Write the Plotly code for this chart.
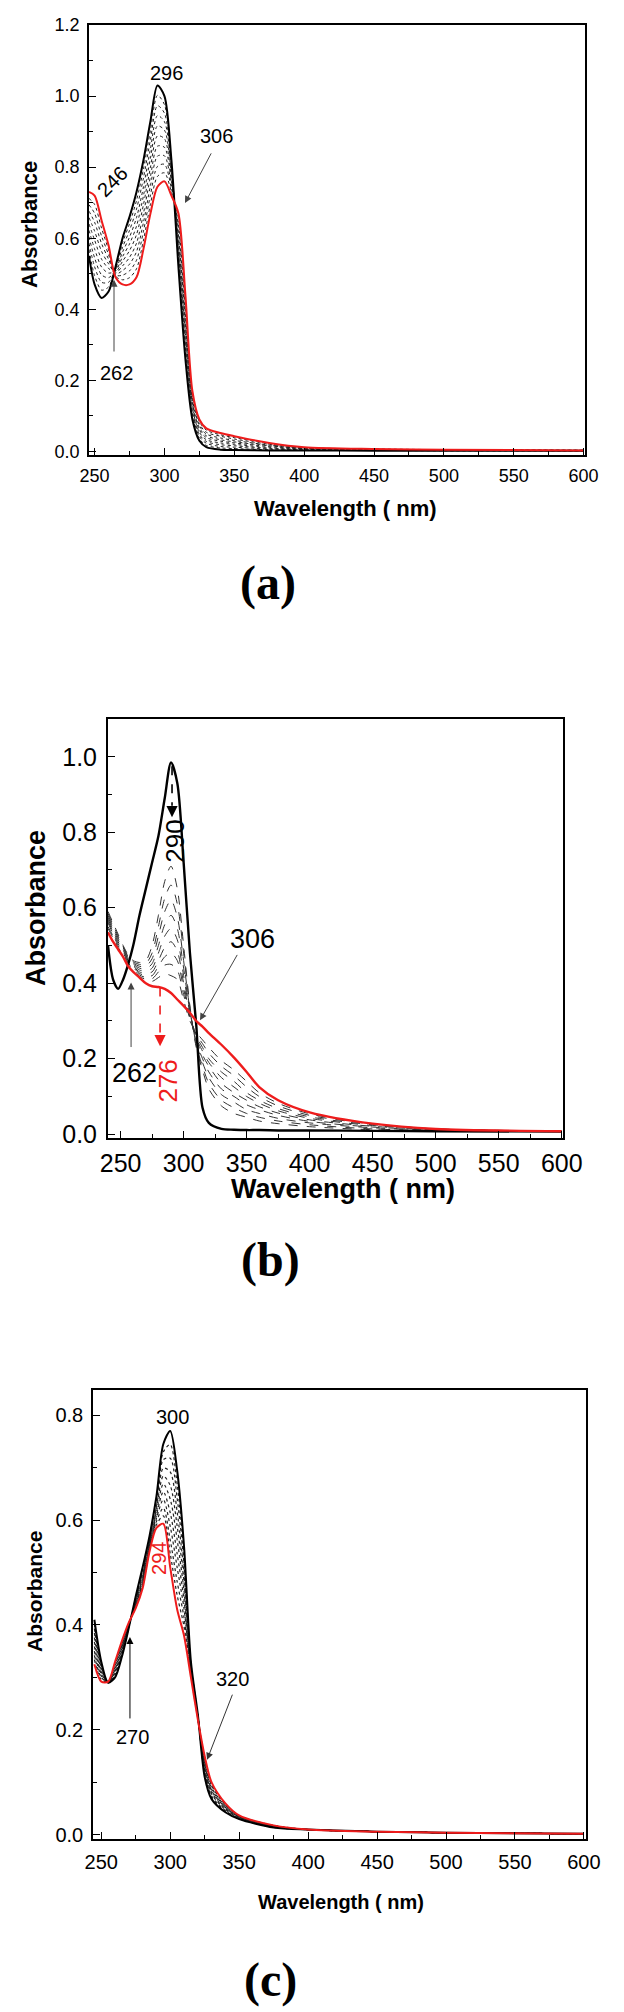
import plotly.graph_objects as go

W, H = 624, 2012

# ---------------- Panel (a) data ----------------
wl_a = [246, 250, 255, 260, 265, 270, 275, 280, 285, 290, 295, 300, 305, 310, 315, 320, 325, 330, 340, 350, 375, 400, 450, 500, 600]
a_initial = [0.55, 0.47, 0.432, 0.45, 0.52, 0.60, 0.66, 0.73, 0.82, 0.93, 1.03, 1.00, 0.82, 0.52, 0.26, 0.09, 0.03, 0.012, 0.005, 0.004, 0.003, 0.003, 0.002, 0.002, 0.002]
a_final = [0.73, 0.72, 0.65, 0.58, 0.49, 0.47, 0.47, 0.49, 0.57, 0.67, 0.745, 0.76, 0.72, 0.67, 0.44, 0.17, 0.09, 0.065, 0.052, 0.043, 0.024, 0.012, 0.007, 0.005, 0.003]
a_scan1 = [0.568, 0.495, 0.454, 0.463, 0.517, 0.587, 0.641, 0.706, 0.795, 0.904, 1.002, 0.976, 0.81, 0.535, 0.278, 0.098, 0.036, 0.017, 0.01, 0.008, 0.005, 0.004, 0.003, 0.002, 0.002]
a_scan2 = [0.586, 0.52, 0.476, 0.476, 0.514, 0.574, 0.622, 0.682, 0.77, 0.878, 0.973, 0.952, 0.80, 0.55, 0.296, 0.106, 0.042, 0.023, 0.014, 0.012, 0.007, 0.005, 0.003, 0.003, 0.002]
a_scan3 = [0.604, 0.545, 0.497, 0.489, 0.511, 0.561, 0.603, 0.658, 0.745, 0.852, 0.945, 0.928, 0.79, 0.565, 0.314, 0.114, 0.048, 0.028, 0.019, 0.016, 0.009, 0.006, 0.004, 0.003, 0.002]
a_scan4 = [0.622, 0.57, 0.519, 0.502, 0.508, 0.548, 0.584, 0.634, 0.72, 0.826, 0.916, 0.904, 0.78, 0.58, 0.332, 0.122, 0.054, 0.033, 0.024, 0.02, 0.011, 0.007, 0.004, 0.003, 0.002]
a_scan5 = [0.64, 0.595, 0.541, 0.515, 0.505, 0.535, 0.565, 0.61, 0.695, 0.80, 0.888, 0.88, 0.77, 0.595, 0.35, 0.13, 0.06, 0.039, 0.029, 0.024, 0.014, 0.008, 0.005, 0.004, 0.003]
a_scan6 = [0.658, 0.62, 0.563, 0.528, 0.502, 0.522, 0.546, 0.586, 0.67, 0.774, 0.859, 0.856, 0.76, 0.61, 0.368, 0.138, 0.066, 0.044, 0.033, 0.027, 0.016, 0.008, 0.005, 0.004, 0.003]
a_scan7 = [0.676, 0.645, 0.585, 0.541, 0.499, 0.509, 0.527, 0.562, 0.645, 0.748, 0.831, 0.832, 0.75, 0.625, 0.386, 0.146, 0.072, 0.049, 0.038, 0.031, 0.018, 0.009, 0.006, 0.004, 0.003]
a_scan8 = [0.694, 0.67, 0.606, 0.554, 0.496, 0.496, 0.508, 0.538, 0.62, 0.722, 0.802, 0.808, 0.74, 0.64, 0.404, 0.154, 0.078, 0.054, 0.043, 0.035, 0.02, 0.01, 0.006, 0.004, 0.003]
a_scan9 = [0.712, 0.695, 0.628, 0.567, 0.493, 0.483, 0.489, 0.514, 0.595, 0.696, 0.774, 0.784, 0.73, 0.655, 0.422, 0.162, 0.084, 0.06, 0.047, 0.039, 0.022, 0.011, 0.007, 0.005, 0.003]

# ---------------- Panel (b) data ----------------
wl_b = [240, 244, 248, 252, 256, 260, 265, 270, 275, 280, 285, 290, 295, 300, 305, 310, 315, 320, 330, 340, 350, 360, 375, 400, 450, 500, 600]
b_initial = [0.50, 0.41, 0.385, 0.41, 0.45, 0.50, 0.58, 0.65, 0.72, 0.79, 0.89, 0.985, 0.93, 0.72, 0.48, 0.29, 0.07, 0.03, 0.014, 0.012, 0.011, 0.011, 0.01, 0.01, 0.009, 0.008, 0.007]
b_final = [0.535, 0.51, 0.49, 0.47, 0.445, 0.43, 0.415, 0.40, 0.392, 0.39, 0.385, 0.374, 0.357, 0.34, 0.322, 0.30, 0.285, 0.268, 0.237, 0.203, 0.165, 0.125, 0.09, 0.058, 0.028, 0.014, 0.008]
b_scan1 = [0.59, 0.56, 0.53, 0.50, 0.475, 0.46, 0.455, 0.46, 0.50, 0.58, 0.67, 0.71, 0.65, 0.50, 0.34, 0.23, 0.17, 0.12, 0.075, 0.055, 0.045, 0.035, 0.028, 0.02, 0.012, 0.009, 0.007]
b_scan2 = [0.585, 0.555, 0.525, 0.497, 0.472, 0.457, 0.45, 0.452, 0.48, 0.55, 0.625, 0.66, 0.61, 0.48, 0.335, 0.235, 0.18, 0.135, 0.09, 0.07, 0.055, 0.045, 0.035, 0.025, 0.014, 0.01, 0.007]
b_scan3 = [0.58, 0.55, 0.52, 0.494, 0.47, 0.454, 0.445, 0.445, 0.465, 0.525, 0.59, 0.62, 0.575, 0.46, 0.33, 0.24, 0.19, 0.15, 0.105, 0.085, 0.065, 0.055, 0.042, 0.03, 0.017, 0.011, 0.007]
b_scan4 = [0.575, 0.545, 0.515, 0.49, 0.467, 0.451, 0.44, 0.438, 0.452, 0.50, 0.555, 0.58, 0.545, 0.44, 0.325, 0.245, 0.20, 0.165, 0.12, 0.10, 0.078, 0.065, 0.05, 0.034, 0.019, 0.012, 0.008]
b_scan5 = [0.57, 0.54, 0.51, 0.487, 0.464, 0.448, 0.435, 0.432, 0.44, 0.48, 0.525, 0.545, 0.515, 0.42, 0.32, 0.25, 0.21, 0.18, 0.135, 0.11, 0.09, 0.073, 0.056, 0.038, 0.021, 0.013, 0.008]
b_scan6 = [0.565, 0.535, 0.505, 0.484, 0.46, 0.445, 0.43, 0.426, 0.43, 0.46, 0.495, 0.51, 0.485, 0.40, 0.315, 0.255, 0.22, 0.19, 0.15, 0.125, 0.10, 0.082, 0.062, 0.042, 0.023, 0.013, 0.008]
b_scan7 = [0.56, 0.53, 0.50, 0.48, 0.457, 0.442, 0.426, 0.42, 0.42, 0.445, 0.47, 0.48, 0.46, 0.385, 0.31, 0.26, 0.23, 0.20, 0.165, 0.14, 0.11, 0.09, 0.068, 0.046, 0.025, 0.014, 0.008]
b_scan8 = [0.55, 0.525, 0.495, 0.477, 0.454, 0.439, 0.422, 0.415, 0.412, 0.43, 0.448, 0.45, 0.435, 0.37, 0.305, 0.265, 0.24, 0.215, 0.18, 0.155, 0.125, 0.10, 0.075, 0.05, 0.027, 0.014, 0.008]
b_scan9 = [0.545, 0.52, 0.49, 0.474, 0.45, 0.436, 0.418, 0.41, 0.405, 0.415, 0.425, 0.42, 0.41, 0.355, 0.30, 0.27, 0.25, 0.23, 0.195, 0.17, 0.14, 0.11, 0.082, 0.054, 0.028, 0.014, 0.008]

# ---------------- Panel (c) data ----------------
wl_c = [245, 250, 255, 260, 265, 270, 275, 280, 285, 290, 295, 300, 305, 310, 315, 320, 325, 330, 340, 350, 375, 400, 450, 500, 600]
c_initial = [0.41, 0.33, 0.29, 0.30, 0.34, 0.395, 0.455, 0.51, 0.57, 0.645, 0.745, 0.77, 0.695, 0.55, 0.33, 0.23, 0.11, 0.068, 0.043, 0.03, 0.014, 0.01, 0.006, 0.004, 0.002]
c_final = [0.325, 0.292, 0.292, 0.33, 0.37, 0.405, 0.432, 0.47, 0.54, 0.585, 0.593, 0.51, 0.43, 0.38, 0.30, 0.22, 0.15, 0.10, 0.06, 0.037, 0.018, 0.01, 0.006, 0.004, 0.002]
c_scan1 = [0.402, 0.326, 0.29, 0.303, 0.343, 0.396, 0.453, 0.506, 0.567, 0.639, 0.73, 0.744, 0.669, 0.533, 0.327, 0.229, 0.114, 0.071, 0.045, 0.031, 0.014, 0.01, 0.006, 0.004, 0.002]
c_scan2 = [0.393, 0.322, 0.29, 0.306, 0.346, 0.397, 0.45, 0.502, 0.564, 0.633, 0.715, 0.718, 0.642, 0.516, 0.324, 0.228, 0.118, 0.074, 0.046, 0.031, 0.015, 0.01, 0.006, 0.004, 0.002]
c_scan3 = [0.385, 0.319, 0.291, 0.309, 0.349, 0.398, 0.448, 0.498, 0.561, 0.627, 0.699, 0.692, 0.616, 0.499, 0.321, 0.227, 0.122, 0.078, 0.048, 0.032, 0.015, 0.01, 0.006, 0.004, 0.002]
c_scan4 = [0.376, 0.315, 0.291, 0.312, 0.352, 0.399, 0.446, 0.494, 0.558, 0.621, 0.684, 0.666, 0.589, 0.482, 0.318, 0.226, 0.126, 0.081, 0.05, 0.033, 0.016, 0.01, 0.006, 0.004, 0.002]
c_scan5 = [0.368, 0.311, 0.291, 0.315, 0.355, 0.40, 0.444, 0.49, 0.555, 0.615, 0.669, 0.64, 0.563, 0.465, 0.315, 0.225, 0.13, 0.084, 0.052, 0.034, 0.016, 0.01, 0.006, 0.004, 0.002]
c_scan6 = [0.359, 0.307, 0.291, 0.318, 0.358, 0.401, 0.441, 0.486, 0.552, 0.609, 0.654, 0.614, 0.536, 0.448, 0.312, 0.224, 0.134, 0.087, 0.053, 0.034, 0.016, 0.01, 0.006, 0.004, 0.002]
c_scan7 = [0.35, 0.303, 0.291, 0.321, 0.361, 0.402, 0.439, 0.482, 0.549, 0.603, 0.639, 0.588, 0.51, 0.431, 0.309, 0.223, 0.138, 0.09, 0.055, 0.035, 0.017, 0.01, 0.006, 0.004, 0.002]
c_scan8 = [0.342, 0.30, 0.292, 0.324, 0.364, 0.403, 0.437, 0.478, 0.546, 0.597, 0.623, 0.562, 0.483, 0.414, 0.306, 0.222, 0.142, 0.094, 0.057, 0.036, 0.017, 0.01, 0.006, 0.004, 0.002]
c_scan9 = [0.334, 0.296, 0.292, 0.327, 0.367, 0.404, 0.434, 0.474, 0.543, 0.591, 0.608, 0.536, 0.457, 0.397, 0.303, 0.221, 0.146, 0.097, 0.058, 0.036, 0.018, 0.01, 0.006, 0.004, 0.002]

x_tick_vals = [250, 300, 350, 400, 450, 500, 550, 600]

SANS = "Liberation Sans, Arial, sans-serif"
SERIF = "Liberation Serif, Times New Roman, serif"

fig = go.Figure()


def add_panel(idx, wl, initial, final, scans, scan_dash, scan_color, scan_width, main_width):
    xa = "x" if idx == 1 else "x%d" % idx
    ya = "y" if idx == 1 else "y%d" % idx
    for s in scans:
        fig.add_trace(go.Scatter(x=wl, y=s, mode="lines", xaxis=xa, yaxis=ya,
                                 line=dict(color=scan_color, width=scan_width, dash=scan_dash, shape="spline", smoothing=0.8),
                                 hoverinfo="skip"))
    fig.add_trace(go.Scatter(x=wl, y=initial, mode="lines", xaxis=xa, yaxis=ya,
                             line=dict(color="black", width=main_width, shape="spline", smoothing=0.8)))
    fig.add_trace(go.Scatter(x=wl, y=final, mode="lines", xaxis=xa, yaxis=ya,
                             line=dict(color="#ee1c1c", width=main_width, shape="spline", smoothing=0.8)))


add_panel(1, wl_a, a_initial, a_final,
          [a_scan1, a_scan2, a_scan3, a_scan4, a_scan5, a_scan6, a_scan7, a_scan8, a_scan9],
          "dot", "#222222", 1.0, 2.0)
add_panel(2, wl_b, b_initial, b_final,
          [b_scan1, b_scan2, b_scan3, b_scan4, b_scan5, b_scan6, b_scan7, b_scan8, b_scan9],
          "dash", "#333333", 1.0, 2.4)
add_panel(3, wl_c, c_initial, c_final,
          [c_scan1, c_scan2, c_scan3, c_scan4, c_scan5, c_scan6, c_scan7, c_scan8, c_scan9],
          "dot", "#222222", 1.2, 2.0)


def px_dom_x(l, r):
    return [l / W, r / W]


def px_dom_y(top, bottom):
    return [1 - bottom / H, 1 - top / H]


def xaxis_cfg(dom, rng, fsize, anchor, lw, standoff):
    return dict(domain=dom, range=rng, anchor=anchor, tickmode="array", tickvals=x_tick_vals,
                ticks="inside", ticklen=7, tickwidth=1.3, tickcolor="black", automargin=False,
                minor=dict(ticks="inside", ticklen=4, dtick=25, tick0=0, tickcolor="black", tickwidth=1.1),
                showline=True, linecolor="black", linewidth=lw, mirror=True,
                showgrid=False, zeroline=False, ticklabelstandoff=standoff,
                tickfont=dict(family=SANS, size=fsize, color="black"))


def yaxis_cfg(dom, rng, fsize, anchor, lw, top, standoff):
    vals = [round(0.2 * i, 1) for i in range(0, int(top / 0.2 + 1e-6) + 1)]
    return dict(domain=dom, range=rng, anchor=anchor, tickmode="array", tickvals=vals,
                ticktext=["%.1f" % v for v in vals], automargin=False,
                ticks="inside", ticklen=7, tickwidth=1.3, tickcolor="black",
                minor=dict(ticks="inside", ticklen=4, dtick=0.1, tick0=0, tickcolor="black", tickwidth=1.1),
                showline=True, linecolor="black", linewidth=lw, mirror=True,
                showgrid=False, zeroline=False, ticklabelstandoff=standoff,
                tickfont=dict(family=SANS, size=fsize, color="black"))


fig.update_layout(
    template="none",
    width=W, height=H, margin=dict(l=0, r=0, t=0, b=0, pad=0),
    paper_bgcolor="white", plot_bgcolor="white", showlegend=False,
    xaxis=xaxis_cfg(px_dom_x(89, 585), [246, 601], 18, "y", 1.5, 4),
    yaxis=yaxis_cfg(px_dom_y(25, 455), [-0.01, 1.2], 18, "x", 1.5, 1.2, 4),
    xaxis2=xaxis_cfg(px_dom_x(108, 563), [240, 601], 25, "y2", 2.0, 2),
    yaxis2=yaxis_cfg(px_dom_y(719, 1138), [-0.01, 1.1], 25, "x2", 2.0, 1.0, 4),
    xaxis3=xaxis_cfg(px_dom_x(93, 586), [244, 601.5], 20, "y3", 1.5, 4),
    yaxis3=yaxis_cfg(px_dom_y(1390, 1839), [-0.008, 0.848], 20, "x3", 1.5, 0.8, 4),
)

ann = []


def ptext(text, x, y, size, bold=False, family=SANS, angle=0, color="black"):
    t = "<b>%s</b>" % text if bold else text
    ann.append(dict(text=t, x=x / W, y=1 - y / H, xref="paper", yref="paper",
                    xanchor="center", yanchor="middle", showarrow=False, textangle=angle,
                    font=dict(family=family, size=size, color=color)))


def dtext(text, x, y, ax_id, size, angle=0, color="black"):
    xr = "x" if ax_id == 1 else "x%d" % ax_id
    yr = "y" if ax_id == 1 else "y%d" % ax_id
    ann.append(dict(text=text, x=x, y=y, xref=xr, yref=yr, xanchor="center", yanchor="middle",
                    showarrow=False, textangle=angle, font=dict(family=SANS, size=size, color=color)))


def darrow(x0, y0, x1, y1, ax_id, color="#444444", width=1.0):
    xr = "x" if ax_id == 1 else "x%d" % ax_id
    yr = "y" if ax_id == 1 else "y%d" % ax_id
    ann.append(dict(text="", x=x1, y=y1, ax=x0, ay=y0, xref=xr, yref=yr, axref=xr, ayref=yr,
                    showarrow=True, arrowhead=2, arrowsize=1.4, arrowwidth=width, arrowcolor=color))


# axis titles and panel labels
ptext("Absorbance", 30, 225, 22, bold=True, angle=-90)
ptext("Wavelength ( nm)", 345, 508, 22, bold=True)
ptext("(a)", 268, 583, 48, bold=True, family=SERIF)

ptext("Absorbance", 36, 908, 27, bold=True, angle=-90)
ptext("Wavelength ( nm)", 343, 1189, 27, bold=True)
ptext("(b)", 270, 1260, 48, bold=True, family=SERIF)

ptext("Absorbance", 34, 1592, 21, bold=True, angle=-90)
ptext("Wavelength ( nm)", 341, 1902, 20, bold=True)
ptext("(c)", 270, 1980, 48, bold=True, family=SERIF)

# panel (a) annotations
dtext("296", 301.8, 1.065, 1, 20)
dtext("306", 337.6, 0.888, 1, 20)
darrow(334, 0.843, 314.7, 0.699, 1)
dtext("246", 262.5, 0.758, 1, 20, angle=-45)
dtext("262", 266, 0.221, 1, 20)
darrow(263.9, 0.277, 263.9, 0.483, 1)

# panel (b) annotations
dtext("290", 293.5, 0.776, 2, 26, angle=-90)
dtext("306", 354.3, 0.516, 2, 27)
darrow(343.2, 0.479, 313, 0.302, 2)
dtext("262", 261.4, 0.161, 2, 27)
darrow(258.3, 0.227, 258.3, 0.402, 2)
dtext("276", 287.6, 0.142, 2, 26, angle=-90, color="#ee1c1c")

# dashed arrows in panel (b)
fig.add_shape(type="line", x0=290.8, y0=0.975, x1=290.8, y1=0.87, xref="x2", yref="y2",
              line=dict(color="black", width=1.6, dash="dash"))
darrow(290.8, 0.87, 290.8, 0.84, 2, color="black", width=1.6)
fig.add_shape(type="line", x0=281.3, y0=0.389, x1=281.3, y1=0.262, xref="x2", yref="y2",
              line=dict(color="#ee1c1c", width=1.6, dash="dash"))
darrow(281.3, 0.262, 281.3, 0.233, 2, color="#ee1c1c", width=1.6)

# panel (c) annotations
dtext("300", 301.3, 0.796, 3, 20)
dtext("294", 291.9, 0.526, 3, 20, angle=-90, color="#ee1c1c")
dtext("270", 272.3, 0.187, 3, 20)
darrow(270.8, 0.219, 270.8, 0.377, 3, color="black")
dtext("320", 345.5, 0.297, 3, 20)
darrow(345.5, 0.27, 326.7, 0.143, 3, color="#333333")

fig.update_layout(annotations=ann)

fig.write_html("out.html", config={"displayModeBar": False},
               post_script="document.body.style.margin='0px';")
